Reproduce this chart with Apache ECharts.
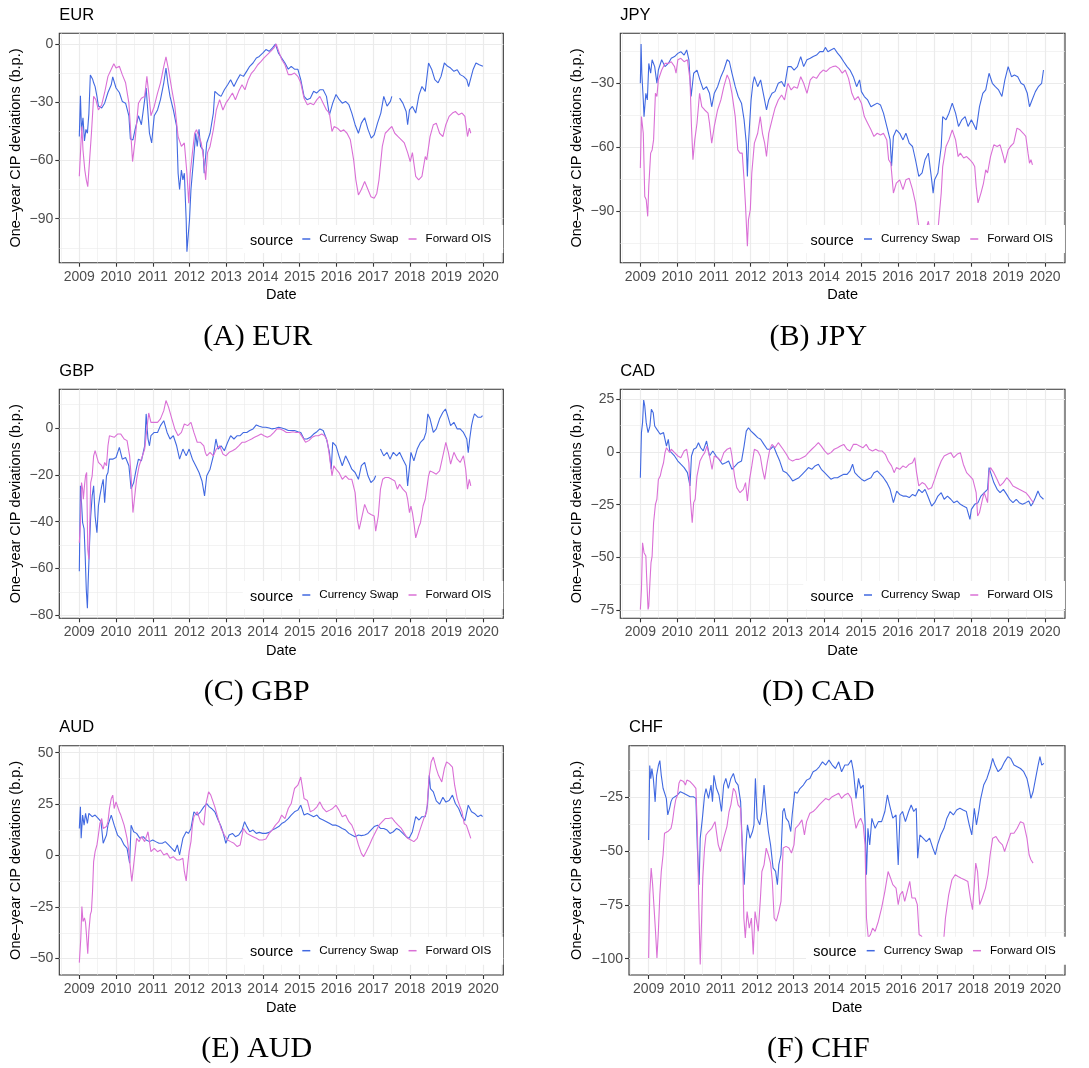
<!DOCTYPE html>
<html><head><meta charset="utf-8">
<script src="https://cdn.jsdelivr.net/npm/echarts@6/dist/echarts.min.js"></script>
<style>html,body{margin:0;padding:0;background:#fff}#c{width:1089px;height:1068px}</style>
</head><body><div id="c"></div>
<script>
const yearTicks = [2009,2010,2011,2012,2013,2014,2015,2016,2017,2018,2019,2020];
const halfYearTicks = [2008.5,2009.5,2010.5,2011.5,2012.5,2013.5,2014.5,2015.5,2016.5,2017.5,2018.5,2019.5,2020.5];
const seriesNames = ['Currency Swap','Forward OIS'];

const eurSwap = [[2009.00,-47.7],[2009.03,-26.7],[2009.06,-45],[2009.10,-38],[2009.14,-50],[2009.18,-44],[2009.22,-46],[2009.26,-36],[2009.30,-16],[2009.32,-15.3],[2009.36,-18],[2009.39,-20],[2009.43,-22],[2009.48,-27],[2009.52,-32],[2009.61,-33],[2009.69,-30.5],[2009.78,-25],[2009.87,-21],[2009.91,-17],[2010.00,-22.7],[2010.09,-25],[2010.17,-29.6],[2010.26,-30.5],[2010.35,-37],[2010.39,-49],[2010.46,-49.4],[2010.52,-44],[2010.61,-37],[2010.69,-41.6],[2010.78,-28.7],[2010.82,-22.7],[2010.91,-46],[2010.97,-51],[2011.04,-37],[2011.13,-34],[2011.21,-28.7],[2011.30,-20],[2011.36,-12.4],[2011.41,-20],[2011.47,-27],[2011.56,-34],[2011.65,-42.5],[2011.69,-66.6],[2011.73,-75],[2011.78,-65],[2011.82,-70],[2011.86,-66.6],[2011.91,-90.7],[2011.93,-107],[2011.97,-97.6],[2012.00,-90.7],[2012.04,-75],[2012.11,-59.7],[2012.17,-46],[2012.21,-52.8],[2012.26,-44],[2012.30,-52.8],[2012.37,-54.6],[2012.40,-66.6],[2012.47,-51],[2012.56,-46],[2012.65,-35.6],[2012.69,-24.4],[2012.78,-26],[2012.86,-27],[2012.95,-23.6],[2013.04,-21],[2013.12,-18.4],[2013.21,-21.9],[2013.30,-18.4],[2013.38,-15.8],[2013.47,-16.7],[2013.56,-14],[2013.64,-11.5],[2013.73,-9.8],[2013.82,-7.2],[2013.90,-6.4],[2014.00,-4.6],[2014.08,-2.9],[2014.17,-3.8],[2014.26,-2],[2014.34,0],[2014.42,-4.6],[2014.51,-7.2],[2014.60,-9.8],[2014.69,-13],[2014.77,-11.5],[2014.86,-13],[2014.95,-13],[2015.03,-18.4],[2015.12,-27],[2015.20,-28.7],[2015.29,-28],[2015.38,-24.4],[2015.46,-25.3],[2015.55,-23.6],[2015.64,-23.6],[2015.73,-27],[2015.81,-36.5],[2015.90,-30.5],[2015.99,-26],[2016.08,-28.7],[2016.16,-30.5],[2016.25,-29.6],[2016.34,-31.3],[2016.42,-35.6],[2016.51,-41.6],[2016.60,-46],[2016.68,-40.8],[2016.77,-38],[2016.86,-44],[2016.95,-48.5],[2017.03,-46.8],[2017.12,-40.8],[2017.21,-35.6],[2017.29,-27],[2017.38,-32],[2017.47,-29.6],[2017.51,-27],[2017.60,null],[2017.72,-27.9],[2017.81,-30.5],[2017.90,-34.8],[2017.94,-41.6],[2017.99,-34],[2018.07,-32.2],[2018.16,-35.6],[2018.25,-26.2],[2018.33,-21.9],[2018.42,-24.4],[2018.51,-9.8],[2018.60,-13.3],[2018.68,-18.4],[2018.77,-20],[2018.85,-16.7],[2018.94,-9.8],[2019.03,-11.5],[2019.11,-12.4],[2019.20,-14.1],[2019.29,-13.3],[2019.37,-15.8],[2019.46,-16.7],[2019.55,-18.4],[2019.60,-22],[2019.65,-18.4],[2019.72,-13.3],[2019.80,-9.8],[2019.89,-10.7],[2019.99,-11.5]];
const eurOis = [[2009.00,-68.2],[2009.04,-52.8],[2009.07,-42.5],[2009.10,-54.6],[2009.15,-65],[2009.19,-70],[2009.23,-73.5],[2009.28,-59.7],[2009.33,-46],[2009.39,-27],[2009.45,-28.7],[2009.52,-34],[2009.61,-31.3],[2009.69,-25],[2009.78,-16.7],[2009.87,-13],[2009.94,-10.2],[2010.00,-12.4],[2010.09,-11.5],[2010.17,-15.8],[2010.26,-20],[2010.35,-30.5],[2010.39,-42.5],[2010.45,-60.6],[2010.52,-49.4],[2010.61,-30.5],[2010.69,-28],[2010.78,-27],[2010.84,-16.7],[2010.89,-25.3],[2010.95,-37],[2011.04,-32.2],[2011.13,-25.3],[2011.21,-20],[2011.30,-11.5],[2011.36,-6.7],[2011.43,-13.3],[2011.52,-23.6],[2011.60,-32],[2011.69,-47.7],[2011.78,-52.8],[2011.86,-51],[2011.93,-66.6],[2011.98,-82],[2012.02,-66.6],[2012.08,-56],[2012.14,-46],[2012.19,-44.2],[2012.26,-47.7],[2012.32,-51],[2012.39,-59.7],[2012.44,-70],[2012.49,-56],[2012.56,-52.8],[2012.65,-44.2],[2012.73,-34],[2012.82,-28.7],[2012.91,-34],[2012.99,-30.5],[2013.08,-28],[2013.17,-25.3],[2013.25,-28.7],[2013.34,-24.4],[2013.43,-21],[2013.51,-23.6],[2013.60,-18.4],[2013.69,-15],[2013.77,-13.3],[2013.86,-10.7],[2013.95,-9],[2014.03,-7.2],[2014.12,-5.5],[2014.21,-3.8],[2014.30,-2],[2014.36,0],[2014.43,-3.8],[2014.51,-8],[2014.60,-10.7],[2014.69,-15.8],[2014.77,-15.8],[2014.86,-15],[2014.95,-16.7],[2015.03,-20],[2015.12,-28],[2015.21,-31.3],[2015.29,-30.5],[2015.38,-31.3],[2015.47,-28.7],[2015.55,-27],[2015.64,-30.5],[2015.73,-34],[2015.81,-35.6],[2015.88,-45.1],[2015.94,-42.5],[2016.03,-43.4],[2016.12,-45.1],[2016.20,-44.2],[2016.29,-46],[2016.38,-49.4],[2016.47,-59.7],[2016.53,-70],[2016.60,-77.8],[2016.68,-75],[2016.77,-70.9],[2016.86,-75],[2016.94,-78.7],[2017.03,-79.5],[2017.10,-77],[2017.16,-70],[2017.25,-52.8],[2017.33,-46],[2017.42,-44.2],[2017.51,-42.5],[2017.59,-46],[2017.68,-47.7],[2017.77,-49.4],[2017.85,-51],[2017.94,-56],[2018.01,-60.6],[2018.07,-56],[2018.16,-68.2],[2018.24,-70],[2018.33,-68.2],[2018.42,-58],[2018.46,-59.7],[2018.55,-47.7],[2018.64,-41.6],[2018.72,-40.8],[2018.81,-46],[2018.90,-47.7],[2018.98,-41.6],[2019.07,-37.3],[2019.16,-35.6],[2019.24,-34.8],[2019.33,-36.5],[2019.42,-35.6],[2019.50,-37.3],[2019.57,-47.7],[2019.62,-43.4],[2019.66,-46]];

const jpySwap = [[2009.00,-30],[2009.02,-11.6],[2009.04,-25.3],[2009.08,-37.8],[2009.10,-45.6],[2009.15,-34.7],[2009.19,-37.8],[2009.23,-20.7],[2009.28,-25.3],[2009.32,-19],[2009.39,-22.2],[2009.45,-30],[2009.49,-23.8],[2009.58,-19],[2009.67,-22.2],[2009.76,-20.7],[2009.84,-18.3],[2009.93,-17.5],[2010.02,-16],[2010.10,-15.2],[2010.19,-16.8],[2010.26,-14.4],[2010.32,-19],[2010.38,-36.2],[2010.45,-25.3],[2010.54,-23.8],[2010.62,-28.4],[2010.71,-33],[2010.80,-31.6],[2010.88,-34.7],[2010.94,-41],[2011.01,-34.7],[2011.10,-31.6],[2011.19,-26.9],[2011.27,-23.8],[2011.36,-19],[2011.42,-19.8],[2011.49,-25.3],[2011.58,-31.6],[2011.66,-36.2],[2011.75,-39.3],[2011.82,-47],[2011.88,-58],[2011.91,-73.6],[2011.94,-58],[2012.01,-37.8],[2012.06,-30],[2012.10,-26.9],[2012.19,-31.6],[2012.27,-28.4],[2012.36,-36.2],[2012.43,-42.5],[2012.49,-37.8],[2012.58,-34.7],[2012.66,-33.9],[2012.75,-30],[2012.84,-29.2],[2012.92,-31.6],[2013.01,-22.2],[2013.10,-22.2],[2013.18,-23.8],[2013.27,-22.2],[2013.36,-17.5],[2013.44,-22.2],[2013.53,-19],[2013.62,-18.3],[2013.70,-17.5],[2013.79,-16.8],[2013.88,-15.2],[2013.97,-15.2],[2014.03,-13.2],[2014.10,-15.2],[2014.18,-14.4],[2014.27,-13.6],[2014.36,-15.9],[2014.44,-17.5],[2014.53,-19.9],[2014.62,-22.2],[2014.70,-23.8],[2014.79,-26.9],[2014.88,-31.6],[2014.96,-28.4],[2015.01,-33.9],[2015.09,-36.2],[2015.18,-37.8],[2015.27,-41],[2015.35,-40.2],[2015.44,-39.3],[2015.53,-40.2],[2015.61,-44],[2015.70,-50.2],[2015.79,-56.4],[2015.83,-68.8],[2015.88,-54.9],[2015.96,-51.8],[2016.05,-53.4],[2016.14,-56.5],[2016.22,-53.4],[2016.31,-58],[2016.40,-59.6],[2016.48,-65.8],[2016.57,-73.6],[2016.66,-72],[2016.74,-65.8],[2016.83,-62.7],[2016.92,-75.2],[2016.96,-81.4],[2017.00,-75.2],[2017.09,-72],[2017.18,-59.6],[2017.22,-45.6],[2017.31,-47.1],[2017.39,-44],[2017.48,-39.3],[2017.57,-44],[2017.65,-50.2],[2017.74,-47.1],[2017.83,-45.6],[2017.91,-50.2],[2018.00,-47.1],[2018.09,-50.2],[2018.13,-51.8],[2018.22,-40.9],[2018.31,-34.7],[2018.39,-33.1],[2018.48,-25.3],[2018.57,-30],[2018.65,-31.6],[2018.74,-33.1],[2018.83,-36.2],[2018.91,-28.4],[2019.00,-22.2],[2019.09,-26.9],[2019.17,-26.1],[2019.26,-26.9],[2019.35,-30],[2019.43,-30.8],[2019.52,-34.7],[2019.58,-41],[2019.65,-37.8],[2019.74,-33.9],[2019.82,-31.6],[2019.91,-30],[2019.96,-23.8]];
const jpyOis = [[2009.00,-69.7],[2009.03,-45.6],[2009.08,-53.4],[2009.12,-83],[2009.16,-84.5],[2009.20,-92.3],[2009.23,-78],[2009.28,-62.7],[2009.32,-61.2],[2009.36,-56.5],[2009.41,-34.7],[2009.45,-36.2],[2009.49,-28.4],[2009.58,-23.8],[2009.67,-20.7],[2009.76,-20.7],[2009.84,-19.9],[2009.93,-22.2],[2009.97,-25.3],[2010.02,-19],[2010.10,-18.3],[2010.19,-19.9],[2010.28,-19],[2010.35,-28.4],[2010.39,-50.2],[2010.43,-65.8],[2010.48,-56.5],[2010.54,-48.7],[2010.61,-34.7],[2010.67,-40.9],[2010.75,-42.5],[2010.84,-44],[2010.88,-48.7],[2010.94,-58],[2011.01,-50.2],[2011.10,-42.5],[2011.19,-37.8],[2011.27,-31.6],[2011.36,-26.1],[2011.42,-28.4],[2011.49,-34.7],[2011.58,-45.6],[2011.65,-61.2],[2011.71,-62.7],[2011.77,-62.7],[2011.82,-75.2],[2011.86,-87.6],[2011.91,-106.3],[2011.94,-93.8],[2011.99,-89.1],[2012.03,-72],[2012.10,-58],[2012.19,-53.4],[2012.26,-45.6],[2012.32,-53.4],[2012.38,-58],[2012.43,-64.3],[2012.49,-53.4],[2012.58,-47.1],[2012.66,-41.7],[2012.75,-37.8],[2012.84,-35.5],[2012.92,-37.8],[2013.01,-30],[2013.10,-33.1],[2013.18,-31.6],[2013.27,-32.3],[2013.36,-26.9],[2013.44,-30],[2013.53,-34.7],[2013.62,-28.4],[2013.70,-26.9],[2013.79,-27.7],[2013.88,-25.3],[2013.97,-23.8],[2014.05,-24.5],[2014.14,-23],[2014.23,-22.2],[2014.31,-21.9],[2014.40,-23],[2014.49,-25.3],[2014.57,-23.8],[2014.66,-27.7],[2014.75,-34.7],[2014.83,-37.8],[2014.92,-36.2],[2015.01,-39.3],[2015.09,-45.6],[2015.18,-48.7],[2015.27,-51.8],[2015.35,-54.9],[2015.44,-53.4],[2015.53,-54.2],[2015.61,-53.4],[2015.70,-56.5],[2015.75,-65.8],[2015.81,-67.4],[2015.88,-81.4],[2015.96,-76.7],[2016.05,-75.2],[2016.14,-79.8],[2016.22,-75.2],[2016.31,-74.5],[2016.40,-79.8],[2016.48,-86],[2016.57,-97],[2016.66,-103],[2016.74,-100],[2016.83,-94.6],[2016.92,-104],[2017.00,-109],[2017.07,-103],[2017.11,-95],[2017.18,-81.4],[2017.22,-69],[2017.31,-59.6],[2017.39,-56.5],[2017.48,-51.8],[2017.57,-56.5],[2017.64,-64.3],[2017.70,-62.7],[2017.79,-65],[2017.87,-64.3],[2017.96,-65.8],[2018.04,-67.4],[2018.09,-69],[2018.13,-78.2],[2018.18,-86],[2018.26,-81.4],[2018.33,-76.7],[2018.39,-70.5],[2018.44,-72],[2018.52,-64.3],[2018.61,-58.8],[2018.70,-59.6],[2018.78,-58.8],[2018.87,-64.3],[2018.91,-67.4],[2019.00,-61.2],[2019.06,-59.6],[2019.15,-58],[2019.19,-54.9],[2019.24,-51],[2019.32,-51.8],[2019.41,-53.4],[2019.48,-54.9],[2019.54,-62.7],[2019.58,-67.4],[2019.62,-65.8],[2019.66,-68.2]];

const gbpSwap = [[2009.00,-61.1],[2009.03,-24.7],[2009.06,-31.9],[2009.09,-40.4],[2009.13,-43],[2009.16,-54.7],[2009.19,-69],[2009.22,-76.9],[2009.24,-66.1],[2009.28,-49],[2009.31,-37.6],[2009.35,-29],[2009.39,-24.7],[2009.43,-37.6],[2009.48,-44.7],[2009.52,-33.3],[2009.56,-29],[2009.61,-24.7],[2009.65,-21.9],[2009.69,-31.9],[2009.74,-20.4],[2009.78,-19],[2009.82,-13.3],[2009.91,-13.3],[2010.00,-12.6],[2010.09,-8.3],[2010.17,-13.3],[2010.26,-12.6],[2010.35,-16.1],[2010.41,-26],[2010.48,-23.3],[2010.55,-17.6],[2010.61,-13.3],[2010.69,-14],[2010.78,-7.6],[2010.82,6],[2010.87,-4.7],[2010.91,-7.6],[2010.95,-3.3],[2011.04,-1.9],[2011.13,-1.9],[2011.21,1],[2011.30,3.1],[2011.34,3.9],[2011.39,-1.9],[2011.47,-4.7],[2011.56,-3.3],[2011.65,-7.6],[2011.73,-13.3],[2011.82,-9],[2011.91,-11.9],[2011.99,-9],[2012.08,-13.3],[2012.17,-16.1],[2012.26,-19],[2012.34,-22.6],[2012.41,-29],[2012.47,-20.4],[2012.56,-17.6],[2012.65,-11.9],[2012.72,-4.7],[2012.78,-9],[2012.86,-7.6],[2012.95,-9.7],[2013.04,-6.1],[2013.12,-3.3],[2013.21,-4.7],[2013.30,-3.3],[2013.38,-3.3],[2013.47,-1.9],[2013.56,-1.9],[2013.64,-1.1],[2013.73,-0.4],[2013.82,1.3],[2013.90,0.7],[2013.99,0.3],[2014.08,0.3],[2014.17,0],[2014.25,-0.4],[2014.34,-0.1],[2014.43,0.3],[2014.51,0],[2014.60,-0.4],[2014.69,-1.1],[2014.77,-1.1],[2014.86,-1.1],[2014.95,-1.6],[2015.03,-1.9],[2015.12,-4.7],[2015.20,-4.7],[2015.29,-4],[2015.38,-2.6],[2015.47,-1.6],[2015.55,-0.4],[2015.64,-1.1],[2015.73,-4.7],[2015.81,-10.4],[2015.86,-17.6],[2015.90,-6.1],[2015.99,-7.6],[2016.07,-11.9],[2016.16,-16.1],[2016.25,-11.9],[2016.34,-14.7],[2016.42,-17.6],[2016.51,-19],[2016.60,-21.9],[2016.68,-16.1],[2016.77,-14.7],[2016.86,-20.4],[2016.94,-23.3],[2017.03,-21.9],[2017.07,-20.4],[2017.12,null],[2017.20,-9],[2017.29,-11.9],[2017.38,-10.4],[2017.46,-13.3],[2017.55,-10.4],[2017.64,-11.9],[2017.72,-10.4],[2017.81,-13.3],[2017.90,-16.1],[2017.94,-24.7],[2018.03,-10.4],[2018.11,-14],[2018.20,-9],[2018.29,-6.1],[2018.38,-4.7],[2018.44,-1.9],[2018.49,6],[2018.55,3.9],[2018.64,-1.9],[2018.72,-0.4],[2018.81,3.9],[2018.90,6.7],[2018.97,8.1],[2019.03,5.3],[2019.11,1],[2019.20,2.4],[2019.29,-0.4],[2019.37,-0.4],[2019.46,-1.9],[2019.55,-4.7],[2019.59,-10.5],[2019.63,-4.7],[2019.68,1],[2019.72,3.9],[2019.76,6],[2019.85,4.6],[2019.94,4.6],[2019.98,5.3]];
const gbpOis = [[2009.00,-49],[2009.03,-40.4],[2009.06,-23.3],[2009.09,-26.1],[2009.11,-30.4],[2009.14,-24.7],[2009.17,-20.4],[2009.20,-19],[2009.23,-51.9],[2009.26,-56],[2009.29,-37.6],[2009.31,-23.3],[2009.35,-20.4],[2009.39,-11.9],[2009.43,-9.7],[2009.48,-10.4],[2009.52,-14.7],[2009.61,-16.1],[2009.65,-17.6],[2009.69,-14.7],[2009.74,-16.1],[2009.78,-7.6],[2009.82,-3.3],[2009.87,-2.6],[2009.95,-4],[2010.04,-2.6],[2010.13,-2.6],[2010.22,-4.7],[2010.30,-5.4],[2010.37,-11.9],[2010.41,-20.4],[2010.46,-36.1],[2010.50,-30.4],[2010.56,-21.9],[2010.63,-16.1],[2010.69,-13.3],[2010.78,-9],[2010.85,1],[2010.89,6.4],[2010.95,2.4],[2011.04,2.4],[2011.13,2.4],[2011.21,3.9],[2011.30,7.4],[2011.36,11.7],[2011.43,8.9],[2011.52,3.9],[2011.60,-0.4],[2011.69,-3.3],[2011.78,-1.9],[2011.86,1.7],[2011.95,1],[2012.04,2.4],[2012.12,-1.9],[2012.21,-6.1],[2012.30,-6.1],[2012.39,-7.6],[2012.43,-10.4],[2012.47,-11.9],[2012.56,-10.4],[2012.65,-11.9],[2012.73,-9],[2012.82,-7.6],[2012.91,-11.1],[2012.99,-11.9],[2013.08,-10.4],[2013.17,-9.7],[2013.25,-9],[2013.34,-7.6],[2013.43,-6.1],[2013.51,-6.1],[2013.60,-5.4],[2013.69,-4.7],[2013.77,-4],[2013.86,-3.3],[2013.95,-2.6],[2014.03,-3.3],[2014.12,-4],[2014.21,-3.3],[2014.30,-1.9],[2014.38,-0.4],[2014.47,-0.4],[2014.56,-1.1],[2014.64,-1.9],[2014.73,-1.9],[2014.82,-1.6],[2014.90,-1.9],[2014.99,-1.9],[2015.08,-4],[2015.16,-6.1],[2015.25,-5.4],[2015.34,-4],[2015.43,-3.3],[2015.51,-3.3],[2015.60,-2.6],[2015.68,-3.3],[2015.75,-5.4],[2015.81,-11.9],[2015.88,-20.4],[2015.93,-16.1],[2015.99,-17.6],[2016.07,-19],[2016.16,-21.9],[2016.25,-20.4],[2016.34,-21.9],[2016.42,-21.9],[2016.51,-27.6],[2016.57,-39],[2016.62,-43.3],[2016.68,-39],[2016.77,-32.6],[2016.86,-36.1],[2016.94,-36.9],[2017.03,-37.6],[2017.07,-44],[2017.14,-37.6],[2017.20,-26.1],[2017.26,-21.9],[2017.33,-21.1],[2017.42,-21.1],[2017.51,-21.9],[2017.59,-22.6],[2017.66,-26.1],[2017.72,-24],[2017.81,-26.1],[2017.90,-27.6],[2017.94,-30.4],[2017.99,-36.1],[2018.03,-33.3],[2018.07,-36.1],[2018.11,-40.4],[2018.16,-46.9],[2018.20,-44.7],[2018.25,-41.9],[2018.29,-40.4],[2018.36,-33.3],[2018.42,-30.4],[2018.46,-26.1],[2018.51,-20.4],[2018.55,-18.3],[2018.64,-19],[2018.72,-19.7],[2018.81,-18.3],[2018.90,-11.9],[2018.98,-6.1],[2019.05,-10.4],[2019.11,-15.4],[2019.20,-10.4],[2019.29,-13.3],[2019.37,-14.7],[2019.46,-11.9],[2019.52,-17.6],[2019.57,-26.1],[2019.62,-21.9],[2019.66,-24.7]];

const cadSwap = [[2009.00,-12.2],[2009.03,9.2],[2009.06,13.9],[2009.09,24.6],[2009.12,21.8],[2009.16,13.9],[2009.21,9.2],[2009.26,12.3],[2009.30,20.2],[2009.35,18.6],[2009.39,12.3],[2009.45,10.7],[2009.54,8.4],[2009.63,9.2],[2009.67,8.4],[2009.71,2.8],[2009.76,6],[2009.80,0.5],[2009.84,-0.3],[2009.93,-1.9],[2010.02,-4.3],[2010.10,-5.8],[2010.19,-7.4],[2010.28,-9.8],[2010.35,-16.1],[2010.39,-1.9],[2010.45,1.3],[2010.52,2],[2010.58,4.4],[2010.64,2],[2010.71,0.5],[2010.80,5.2],[2010.88,-1.9],[2010.97,0.5],[2011.06,-1.9],[2011.14,-3.5],[2011.23,-5.8],[2011.32,-5.1],[2011.40,-4.3],[2011.49,-8.2],[2011.58,-6.6],[2011.66,-5.1],[2011.75,-4.3],[2011.82,2.8],[2011.88,9.9],[2011.94,11.5],[2012.01,9.9],[2012.10,8.4],[2012.19,6.8],[2012.27,6],[2012.36,3.6],[2012.45,1.3],[2012.53,1.3],[2012.62,2.8],[2012.71,-1.1],[2012.79,-4.3],[2012.88,-9],[2012.97,-9.8],[2013.05,-11.4],[2013.14,-13.7],[2013.23,-12.9],[2013.31,-12.2],[2013.40,-10.6],[2013.49,-9],[2013.57,-7.4],[2013.66,-8.2],[2013.75,-6.6],[2013.84,-5.8],[2013.92,-8.2],[2014.01,-9.8],[2014.10,-11.4],[2014.18,-12.9],[2014.27,-12.2],[2014.36,-12.2],[2014.44,-11.4],[2014.53,-10.6],[2014.62,-10.6],[2014.70,-9],[2014.77,-5.8],[2014.83,-9.8],[2014.92,-11.4],[2015.01,-12.9],[2015.09,-13.7],[2015.18,-12.9],[2015.27,-12.2],[2015.35,-9.8],[2015.44,-9],[2015.53,-10.6],[2015.61,-12.2],[2015.70,-14.5],[2015.79,-17.7],[2015.88,-24],[2015.97,-18.5],[2016.05,-20.1],[2016.14,-20.9],[2016.22,-20.9],[2016.31,-21.6],[2016.40,-20.1],[2016.48,-20.9],[2016.57,-17.7],[2016.66,-19.3],[2016.74,-17.7],[2016.83,-21.6],[2016.92,-25.6],[2017.00,-24],[2017.09,-20.9],[2017.18,-19.3],[2017.26,-22.4],[2017.35,-20.9],[2017.44,-22.4],[2017.52,-24],[2017.61,-23.2],[2017.70,-24.8],[2017.78,-25.6],[2017.87,-26.4],[2017.96,-31.9],[2018.00,-27.2],[2018.09,-24.8],[2018.18,-24],[2018.26,-20.9],[2018.35,-19.3],[2018.44,-17.7],[2018.48,-7.4],[2018.52,-8.2],[2018.61,-14.5],[2018.70,-17.7],[2018.78,-19.3],[2018.87,-17.7],[2018.96,-20.1],[2019.04,-22.4],[2019.13,-24],[2019.22,-22.4],[2019.30,-24],[2019.39,-24.8],[2019.48,-24],[2019.56,-23.2],[2019.62,-25.6],[2019.68,-24],[2019.74,-21.6],[2019.81,-18.5],[2019.87,-20.9],[2019.96,-22.4]];
const cadOis = [[2009.00,-74.6],[2009.03,-65],[2009.06,-43],[2009.10,-47.7],[2009.15,-49.3],[2009.17,-58.8],[2009.21,-74.6],[2009.23,-73],[2009.26,-61.9],[2009.29,-52.4],[2009.32,-49.3],[2009.36,-33.5],[2009.41,-24.8],[2009.45,-22.4],[2009.49,-13],[2009.54,-11.4],[2009.58,-8.2],[2009.63,-5.1],[2009.67,-0.3],[2009.71,2],[2009.76,2.8],[2009.80,-0.3],[2009.84,1.3],[2009.93,-0.3],[2010.02,-1.9],[2010.10,-2.7],[2010.19,0.5],[2010.26,1.3],[2010.32,-5.1],[2010.36,-22.4],[2010.41,-33.5],[2010.45,-24],[2010.49,-22.4],[2010.54,-11.4],[2010.62,-4.3],[2010.69,-1.9],[2010.75,-0.3],[2010.81,2.8],[2010.88,-1.9],[2010.95,-8.2],[2011.01,-1.9],[2011.10,-2.7],[2011.19,-4.3],[2011.27,-0.3],[2011.36,1.3],[2011.45,2],[2011.49,-1.9],[2011.56,-11.4],[2011.62,-16.9],[2011.71,-19.3],[2011.80,-17.7],[2011.86,-14.5],[2011.91,-23.2],[2011.97,-13],[2012.03,-6.6],[2012.10,1.3],[2012.19,0.5],[2012.26,-1.9],[2012.32,-8.2],[2012.38,-13],[2012.45,-5.1],[2012.52,1.3],[2012.58,3.6],[2012.66,2],[2012.75,4.4],[2012.79,5.2],[2012.88,1.3],[2012.97,-1.1],[2013.05,-3.5],[2013.14,-4.3],[2013.23,-3.5],[2013.31,-3.5],[2013.40,-2.7],[2013.49,-1.9],[2013.57,-0.3],[2013.66,1.3],[2013.75,2.8],[2013.84,4.4],[2013.92,2.8],[2014.01,0.5],[2014.10,-1.1],[2014.18,-0.3],[2014.27,1.3],[2014.36,2],[2014.44,2.8],[2014.53,3.6],[2014.62,1.3],[2014.70,0.5],[2014.79,3.6],[2014.88,3.6],[2014.96,2.8],[2015.05,2],[2015.14,3.6],[2015.22,1.3],[2015.31,0.5],[2015.40,1.3],[2015.48,0.5],[2015.57,0.5],[2015.66,-1.1],[2015.74,-4.3],[2015.83,-6.6],[2015.90,-9.8],[2015.96,-7.4],[2016.05,-8.2],[2016.14,-6.6],[2016.22,-7.4],[2016.31,-5.8],[2016.40,-5.1],[2016.46,-2.7],[2016.51,-9.8],[2016.57,-16.1],[2016.66,-14.5],[2016.74,-15.3],[2016.83,-17.7],[2016.92,-16.9],[2017.00,-13],[2017.09,-8.2],[2017.18,-4.3],[2017.26,-1.9],[2017.35,-1.1],[2017.44,-0.3],[2017.52,-2.7],[2017.61,-1.1],[2017.70,-0.3],[2017.78,-5.8],[2017.87,-9.8],[2017.96,-11.4],[2018.04,-13],[2018.13,-19.3],[2018.17,-30.3],[2018.22,-28.7],[2018.30,-22.4],[2018.35,-19.3],[2018.39,-20.1],[2018.44,-24],[2018.48,-9.8],[2018.52,-7.4],[2018.61,-9.8],[2018.70,-13],[2018.78,-16.1],[2018.87,-14.5],[2018.96,-12.2],[2019.04,-13.7],[2019.13,-16.1],[2019.22,-16.9],[2019.30,-17.7],[2019.39,-18.5],[2019.48,-19.3],[2019.56,-20.9],[2019.65,-23.2],[2019.69,-24]];

const audSwap = [[2009.00,13.2],[2009.03,23.7],[2009.05,8.4],[2009.09,19.7],[2009.13,14.8],[2009.17,20.5],[2009.22,15.6],[2009.26,20.5],[2009.35,18.9],[2009.43,19.7],[2009.52,18],[2009.59,16.5],[2009.65,6],[2009.69,5.2],[2009.74,10],[2009.78,14.8],[2009.87,19.7],[2009.91,18.9],[2009.95,14.8],[2010.04,10],[2010.13,8.4],[2010.22,5.2],[2010.30,3.5],[2010.37,-3.7],[2010.41,14.8],[2010.48,11.6],[2010.56,10.8],[2010.65,8.4],[2010.74,9.2],[2010.82,7.6],[2010.91,6.8],[2011.00,7.6],[2011.08,6.8],[2011.17,6],[2011.26,6],[2011.34,6.8],[2011.43,5.2],[2011.52,3.5],[2011.60,1.9],[2011.67,5.2],[2011.73,0.3],[2011.82,8.4],[2011.91,11.6],[2011.97,10.8],[2012.04,13.2],[2012.12,21.3],[2012.21,19.7],[2012.30,21.3],[2012.39,23.7],[2012.47,25.3],[2012.54,23.7],[2012.60,22.9],[2012.69,21.3],[2012.78,17.3],[2012.86,14.2],[2012.92,10.8],[2012.99,6],[2013.08,10],[2013.17,10.8],[2013.25,9.2],[2013.34,10],[2013.43,12.4],[2013.50,16.5],[2013.56,14.2],[2013.64,11.6],[2013.73,12.4],[2013.82,10.8],[2013.90,11.3],[2013.99,10.8],[2014.08,10.8],[2014.17,11.3],[2014.25,12.4],[2014.34,13.2],[2014.43,14.1],[2014.51,15.6],[2014.60,16.5],[2014.69,18],[2014.77,19.7],[2014.86,21.3],[2014.95,22.1],[2015.03,24.5],[2015.12,19.7],[2015.21,20.5],[2015.29,19.7],[2015.38,18.9],[2015.47,19.7],[2015.55,18],[2015.64,17.3],[2015.73,16.5],[2015.82,15.6],[2015.90,14.8],[2015.99,14.8],[2016.07,14.1],[2016.16,13.2],[2016.25,12.4],[2016.34,10.8],[2016.42,10],[2016.51,9.2],[2016.60,10],[2016.68,9.7],[2016.77,10],[2016.86,10.8],[2016.94,12.4],[2017.03,14.1],[2017.12,14.8],[2017.20,13.2],[2017.29,13.2],[2017.38,12.4],[2017.46,10.8],[2017.55,11.6],[2017.64,13.2],[2017.72,12.4],[2017.81,10.8],[2017.90,9.2],[2017.98,8.4],[2018.07,11.6],[2018.16,18.9],[2018.25,17.3],[2018.33,18.9],[2018.42,18.9],[2018.48,24.5],[2018.53,39],[2018.56,32.6],[2018.64,31],[2018.72,26.6],[2018.81,25],[2018.90,28.4],[2018.98,26],[2019.07,26.8],[2019.16,29.4],[2019.24,25.3],[2019.33,22.9],[2019.42,18.9],[2019.50,17],[2019.59,24.5],[2019.68,21.3],[2019.76,20.5],[2019.85,18.9],[2019.94,19.7],[2019.98,18.9]];
const audOis = [[2009.00,-52],[2009.04,-40.3],[2009.07,-24.7],[2009.10,-32],[2009.14,-30.3],[2009.17,-32.6],[2009.20,-39.7],[2009.23,-47.7],[2009.26,-36.8],[2009.30,-28.7],[2009.33,-27],[2009.36,-17.4],[2009.39,-2.9],[2009.43,1.9],[2009.48,5.2],[2009.52,10],[2009.56,15.6],[2009.61,18],[2009.65,13.2],[2009.69,13.2],[2009.74,14.1],[2009.78,16.5],[2009.82,22.9],[2009.87,27.7],[2009.91,29.4],[2009.95,22.9],[2010.00,26.1],[2010.04,25.3],[2010.09,21.3],[2010.13,19.7],[2010.17,18.9],[2010.22,14.8],[2010.26,11.6],[2010.30,8.4],[2010.35,1.9],[2010.39,-6.1],[2010.43,-12.6],[2010.48,-4.5],[2010.52,1.9],[2010.56,8.4],[2010.63,6.8],[2010.69,9.2],[2010.78,6.8],[2010.87,11.6],[2010.95,1.9],[2011.04,3.5],[2011.13,1.9],[2011.21,2.7],[2011.30,0.3],[2011.39,1.1],[2011.47,-1.3],[2011.56,-0.5],[2011.65,-2.1],[2011.73,-2.1],[2011.82,-1.3],[2011.86,-7.7],[2011.91,-12.3],[2011.95,-4.5],[2011.99,1.9],[2012.04,6.8],[2012.08,14.8],[2012.12,18.9],[2012.21,21.3],[2012.30,16.5],[2012.39,14.8],[2012.45,25.3],[2012.52,31],[2012.58,29.4],[2012.62,30.2],[2012.69,23.7],[2012.78,18],[2012.86,13.2],[2012.95,10],[2013.04,7.6],[2013.12,6.8],[2013.21,6],[2013.30,4.4],[2013.38,5.2],[2013.47,13.2],[2013.56,10.8],[2013.64,10],[2013.73,9.2],[2013.82,8.4],[2013.90,7.6],[2013.99,7.6],[2014.08,8.1],[2014.17,10.8],[2014.25,12.4],[2014.34,14.8],[2014.43,16.5],[2014.51,19.7],[2014.60,18],[2014.69,22.9],[2014.77,25.3],[2014.86,32.6],[2014.95,34.2],[2015.03,38.2],[2015.08,32.6],[2015.12,27.7],[2015.21,26.8],[2015.29,21.3],[2015.38,22.1],[2015.47,23.7],[2015.55,26.1],[2015.64,22.9],[2015.73,21.3],[2015.82,22.1],[2015.90,22.9],[2015.99,24.5],[2016.07,22.1],[2016.16,18.9],[2016.25,19.7],[2016.34,16.5],[2016.42,14.8],[2016.51,10.8],[2016.60,5.2],[2016.68,1.1],[2016.74,-0.5],[2016.81,1.9],[2016.90,5.2],[2016.98,8.4],[2017.07,11.6],[2017.16,14.8],[2017.25,16.5],[2017.33,18],[2017.42,18],[2017.51,18.4],[2017.59,16.5],[2017.68,14.8],[2017.77,13.2],[2017.85,10.8],[2017.94,8.4],[2018.03,7.6],[2018.11,6.8],[2018.20,8.4],[2018.29,13.2],[2018.38,18],[2018.46,21.3],[2018.52,37.4],[2018.58,45.5],[2018.64,47.9],[2018.72,42.3],[2018.78,39],[2018.87,35.8],[2018.94,42.3],[2019.00,45.5],[2019.07,44.7],[2019.16,43],[2019.22,34.2],[2019.29,27.7],[2019.35,24.5],[2019.42,21.3],[2019.48,15.5],[2019.54,14.8],[2019.60,11.6],[2019.66,8.4]];

const chfSwap = [[2009.00,-44.8],[2009.03,-10.2],[2009.06,-16.3],[2009.09,-11.6],[2009.13,-16.3],[2009.18,-27.1],[2009.22,-14.8],[2009.27,-10.2],[2009.31,-7.9],[2009.35,-14.8],[2009.40,-20.8],[2009.44,-20.8],[2009.49,-25.5],[2009.53,-33.2],[2009.58,-30.1],[2009.62,-27],[2009.66,-25.5],[2009.71,-25.5],[2009.80,-23.9],[2009.88,-22.4],[2009.97,-23.1],[2010.06,-23.9],[2010.15,-24.7],[2010.24,-24.7],[2010.31,-25.5],[2010.35,-48.6],[2010.40,-65.6],[2010.43,-44.1],[2010.49,-34.8],[2010.55,-24.1],[2010.59,-21],[2010.66,-25.5],[2010.73,-19.3],[2010.77,-27],[2010.81,-14.8],[2010.88,-20.8],[2010.95,-23.9],[2011.02,-31.6],[2011.08,-19.3],[2011.14,-16.2],[2011.21,-20.8],[2011.28,-16.2],[2011.35,-13.9],[2011.41,-17.7],[2011.48,-19.3],[2011.55,-27],[2011.61,-53.3],[2011.65,-65.6],[2011.70,-47.1],[2011.74,-37.8],[2011.81,-44],[2011.88,-40.9],[2011.92,-37.8],[2011.96,-16.2],[2012.01,-34.8],[2012.08,-37.8],[2012.14,-31.6],[2012.20,-19.3],[2012.26,-31.6],[2012.32,-40.9],[2012.38,-47.1],[2012.45,-57.8],[2012.52,-59.4],[2012.57,-65.6],[2012.61,-56.3],[2012.67,-51.7],[2012.72,-31.6],[2012.76,-30.1],[2012.81,-34.7],[2012.88,-36.3],[2012.94,-40.9],[2012.98,-33.2],[2013.05,-22.4],[2013.12,-23.1],[2013.20,-20.8],[2013.29,-19.3],[2013.38,-17],[2013.47,-16.2],[2013.56,-13.1],[2013.65,-12.3],[2013.73,-10.8],[2013.82,-8.5],[2013.91,-10],[2014.00,-7.7],[2014.09,-10],[2014.18,-11.6],[2014.27,-8.5],[2014.35,-13.1],[2014.44,-10],[2014.53,-10],[2014.62,-7.7],[2014.68,-13.1],[2014.75,-25.5],[2014.82,-16.2],[2014.88,-20.8],[2014.95,-19.3],[2015.00,-36.3],[2015.04,-61],[2015.08,-39.4],[2015.13,-47.1],[2015.19,-34.8],[2015.28,-39.4],[2015.37,-36.3],[2015.46,-36.3],[2015.55,-31.6],[2015.62,-23.9],[2015.68,-28.5],[2015.77,-34.7],[2015.86,-33.2],[2015.92,-56.4],[2015.97,-33.2],[2016.04,-31.6],[2016.12,-36.3],[2016.21,-31.6],[2016.28,-28.6],[2016.35,-31.6],[2016.42,-30.1],[2016.46,-53.3],[2016.52,-42.5],[2016.61,-44],[2016.70,-45.6],[2016.79,-44],[2016.88,-48.6],[2016.95,-51.7],[2017.01,-47.1],[2017.10,-42.5],[2017.19,-39.4],[2017.27,-34.7],[2017.36,-31.6],[2017.45,-33.2],[2017.54,-30.9],[2017.63,-30.1],[2017.72,-30.9],[2017.81,-31.6],[2017.89,-37.8],[2017.96,-42.5],[2018.03,-30.1],[2018.09,-37.8],[2018.16,-30.9],[2018.20,-26.2],[2018.29,-19.3],[2018.38,-16.2],[2018.47,-11.6],[2018.54,-6.9],[2018.60,-10],[2018.69,-13.1],[2018.78,-11.6],[2018.87,-8.5],[2018.96,-6.1],[2019.04,-6.9],[2019.13,-10],[2019.22,-10.8],[2019.31,-11.6],[2019.40,-13.1],[2019.49,-16.2],[2019.55,-20.8],[2019.60,-25.5],[2019.66,-22.4],[2019.73,-16.2],[2019.80,-10],[2019.85,-6.1],[2019.90,-10],[2019.96,-9.2]];
const chfOis = [[2009.00,-99.7],[2009.03,-70.3],[2009.07,-57.9],[2009.11,-65.6],[2009.15,-76.4],[2009.19,-87.3],[2009.23,-99.7],[2009.27,-87.3],[2009.31,-70.3],[2009.35,-59.5],[2009.40,-51.7],[2009.44,-41.7],[2009.53,-40.9],[2009.62,-39.4],[2009.66,-36.3],[2009.71,-30.1],[2009.75,-26.2],[2009.80,-23.9],[2009.84,-18.5],[2009.88,-17],[2009.97,-17.7],[2010.02,-19.3],[2010.06,-17],[2010.15,-17.7],[2010.24,-19.3],[2010.31,-20.8],[2010.35,-39.4],[2010.39,-74.9],[2010.43,-102.7],[2010.47,-81.1],[2010.50,-62.6],[2010.55,-48.6],[2010.59,-42.5],[2010.66,-40.9],[2010.75,-39.4],[2010.84,-36.3],[2010.93,-47.1],[2010.99,-50.2],[2011.08,-44],[2011.17,-38.6],[2011.23,-31.6],[2011.28,-28.5],[2011.35,-20.8],[2011.41,-22.4],[2011.48,-28.5],[2011.55,-30.1],[2011.61,-54.9],[2011.64,-81.1],[2011.68,-90.4],[2011.73,-78.1],[2011.79,-85.8],[2011.85,-81.1],[2011.90,-98.1],[2011.95,-78.1],[2011.99,-78.1],[2012.04,-87.3],[2012.10,-71.8],[2012.14,-59.5],[2012.20,-56.4],[2012.26,-48.6],[2012.32,-51.7],[2012.38,-55.6],[2012.43,-64.1],[2012.48,-81.1],[2012.54,-82.6],[2012.61,-78.1],[2012.67,-73.4],[2012.73,-48.6],[2012.81,-47.8],[2012.89,-48.6],[2012.96,-50.9],[2013.03,-47.1],[2013.07,-39.4],[2013.16,-37.8],[2013.25,-35.5],[2013.32,-42.5],[2013.38,-36.3],[2013.47,-32.4],[2013.56,-31.6],[2013.65,-30.1],[2013.73,-28.5],[2013.82,-27],[2013.91,-25.5],[2014.00,-26.2],[2014.09,-24.7],[2014.18,-23.9],[2014.27,-23.1],[2014.35,-25.5],[2014.44,-23.9],[2014.53,-23.1],[2014.62,-25.5],[2014.68,-32.4],[2014.75,-39.4],[2014.82,-36.3],[2014.88,-34.7],[2014.95,-37.8],[2015.00,-47.1],[2015.04,-81.1],[2015.09,-90.4],[2015.15,-88.8],[2015.21,-85.8],[2015.28,-87.3],[2015.37,-82.6],[2015.46,-76.4],[2015.55,-68.7],[2015.64,-59.5],[2015.71,-62.6],[2015.77,-65.6],[2015.86,-67.2],[2015.92,-74.9],[2015.97,-70.3],[2016.04,-68.7],[2016.10,-73.4],[2016.17,-68.7],[2016.24,-64.1],[2016.30,-71.8],[2016.39,-71.8],[2016.45,-74.9],[2016.50,-88.8],[2016.57,-89.6],[2016.65,-96],[2016.75,-99],[2016.85,-97],[2016.95,-100],[2017.05,-98],[2017.12,-95],[2017.19,-89.6],[2017.23,-81.1],[2017.32,-70.3],[2017.41,-63.3],[2017.50,-61],[2017.58,-61.8],[2017.67,-62.6],[2017.76,-63.3],[2017.85,-64.1],[2017.92,-71.8],[2017.98,-77.2],[2018.03,-65.6],[2018.07,-55.6],[2018.12,-59.5],[2018.18,-74.9],[2018.25,-71.8],[2018.34,-67.2],[2018.41,-61],[2018.47,-51.7],[2018.54,-44],[2018.63,-43.2],[2018.72,-45.6],[2018.81,-47.1],[2018.87,-50.2],[2018.96,-45.6],[2019.04,-41.7],[2019.13,-41.7],[2019.22,-39.4],[2019.31,-36.3],[2019.40,-37.1],[2019.49,-44],[2019.55,-51.7],[2019.60,-54],[2019.66,-55.6]];

const X_MIN = 2008.455, X_MAX = 2020.545;
const SANS = 'Liberation Sans, Arial, sans-serif';
const SERIF = 'Liberation Serif, Times New Roman, serif';
const COLORS = ['#4169E1', '#DA70D6'];

const panels = [
  {key:'EUR', caption:'(A) EUR', swap:eurSwap, ois:eurOis, yMin:-112.7, yMax:5.5, yMajor:[-90,-60,-30,0], yMinor:[-105,-75,-45,-15], left:59.3, top:33.3, width:444, height:229.4, nameGap:36, lgLeft:242.7, lgTop:225, lgPad:59.6, titleY:15, capX:257.7, capY:337.5},
  {key:'JPY', caption:'(B) JPY', swap:jpySwap, ois:jpyOis, yMin:-114.0, yMax:-6.6, yMajor:[-90,-60,-30], yMinor:[-105,-75,-45,-15], left:620.3, top:33.3, width:444.7, height:229.4, nameGap:35.7, lgLeft:803.3, lgTop:225, lgPad:60.7, titleY:15, capX:818.3, capY:337.5},
  {key:'GBP', caption:'(C) GBP', swap:gbpSwap, ois:gbpOis, yMin:-81.2, yMax:16.5, yMajor:[-80,-60,-40,-20,0], yMinor:[-70,-50,-30,-10,10], left:59.3, top:389.3, width:444, height:229, nameGap:36, lgLeft:242.7, lgTop:581, lgPad:59.6, titleY:371.7, capX:256.7, capY:692.5},
  {key:'CAD', caption:'(D) CAD', swap:cadSwap, ois:cadOis, yMin:-78.8, yMax:29.7, yMajor:[-75,-50,-25,0,25], yMinor:[-62.5,-37.5,-12.5,12.5], left:620.3, top:389.3, width:444.7, height:229, nameGap:35.7, lgLeft:803.3, lgTop:581, lgPad:60.7, titleY:371.7, capX:818.3, capY:692.5},
  {key:'AUD', caption:'(E) AUD', swap:audSwap, ois:audOis, yMin:-58.0, yMax:53.4, yMajor:[-50,-25,0,25,50], yMinor:[-37.5,-12.5,12.5,37.5], left:59.3, top:745.7, width:444, height:229.3, nameGap:36, lgLeft:242.7, lgTop:936.7, lgPad:59.6, titleY:727.3, capX:256.7, capY:1049},
  {key:'CHF', caption:'(F) CHF', swap:chfSwap, ois:chfOis, yMin:-107.6, yMax:-1.0, yMajor:[-100,-75,-50,-25], yMinor:[-87.5,-62.5,-37.5,-12.5], left:629, top:745.7, width:436, height:229.3, nameGap:44.4, lgLeft:806, lgTop:936.7, lgPad:60.7, titleY:727.3, capX:818.3, capY:1049}
];

const fmtY = v => (v < 0 ? '\u2212' + Math.abs(v) : String(v));
const fmtX = v => String(Math.round(v));
const grid = [], xAxis = [], yAxis = [], series = [], legend = [], graphic = [];

panels.forEach((p, i) => {
  grid.push({left:p.left, top:p.top, width:p.width, height:p.height, show:true, backgroundColor:'#fff', borderColor:'#333333', borderWidth:1.1, containLabel:false});
  xAxis.push({type:'value', gridIndex:i, min:X_MIN, max:X_MAX, position:'bottom',
    axisLine:{show:false, onZero:false},
    axisTick:{show:true, customValues:yearTicks, length:4, lineStyle:{color:'#333333', width:1.1}},
    axisLabel:{customValues:yearTicks, color:'#4D4D4D', fontSize:14, margin:7, fontFamily:SANS, formatter:fmtX},
    splitLine:{show:true, lineStyle:{color:'#EBEBEB', width:1.2}},
    name:'Date', nameLocation:'middle', nameGap:25, nameTextStyle:{color:'#000', fontSize:14.5, fontFamily:SANS}});
  xAxis.push({type:'value', gridIndex:i, min:X_MIN, max:X_MAX, position:'top',
    axisLine:{show:false, onZero:false}, axisTick:{show:false, customValues:halfYearTicks},
    axisLabel:{show:false, customValues:halfYearTicks},
    splitLine:{show:true, lineStyle:{color:'#EBEBEB', width:0.6}}});
  yAxis.push({type:'value', gridIndex:i, min:p.yMin, max:p.yMax, position:'left',
    axisLine:{show:false, onZero:false},
    axisTick:{show:true, customValues:p.yMajor, length:4, lineStyle:{color:'#333333', width:1.1}},
    axisLabel:{customValues:p.yMajor, color:'#4D4D4D', fontSize:14, margin:6, fontFamily:SANS, formatter:fmtY},
    splitLine:{show:true, lineStyle:{color:'#EBEBEB', width:1.2}},
    name:'One\u2013year CIP deviations (b.p.)', nameLocation:'middle', nameGap:p.nameGap,
    nameTextStyle:{color:'#000', fontSize:14.5, fontFamily:SANS}});
  yAxis.push({type:'value', gridIndex:i, min:p.yMin, max:p.yMax, position:'right',
    axisLine:{show:false, onZero:false}, axisTick:{show:false, customValues:p.yMinor},
    axisLabel:{show:false, customValues:p.yMinor},
    splitLine:{show:true, lineStyle:{color:'#EBEBEB', width:0.6}}});
  [p.swap, p.ois].forEach((d, k) => {
    series.push({type:'line', name:seriesNames[k], xAxisIndex:2*i, yAxisIndex:2*i, data:d,
      showSymbol:false, symbol:'none', connectNulls:false, silent:true,
      lineStyle:{color:COLORS[k], width:1.1}, itemStyle:{color:COLORS[k]}, z:2});
  });
  legend.push({left:p.lgLeft, top:p.lgTop, orient:'horizontal', padding:[8,12,8,p.lgPad],
    backgroundColor:'#fff', data:seriesNames, icon:'rect', itemWidth:8, itemHeight:1.5, itemGap:10,
    selectedMode:false, itemStyle:{borderWidth:0},
    textStyle:{fontSize:11.6, color:'#000', fontFamily:SANS, padding:[0,0,0,4]}, z:4});
  graphic.push({type:'text', x:p.left, y:p.titleY, z:100,
    style:{text:p.key, fontSize:16.5, fontFamily:SANS, fill:'#000', align:'left', verticalAlign:'middle'}});
  graphic.push({type:'text', x:p.lgLeft + 7.3, y:p.lgTop + 15.7, z:100,
    style:{text:'source', fontSize:14.4, fontFamily:SANS, fill:'#000', align:'left', verticalAlign:'middle'}});
  graphic.push({type:'text', x:p.capX, y:p.capY, z:100,
    style:{text:p.caption, fontSize:30, fontFamily:SERIF, fill:'#000', align:'center', verticalAlign:'middle'}});
});

const chart = echarts.init(document.getElementById('c'), null, {renderer:'canvas'});
chart.setOption({
  backgroundColor:'#fff', animation:false,
  textStyle:{fontFamily:SANS},
  grid, xAxis, yAxis, series, legend,
  graphic:{elements:graphic, z:100}
});
</script></body></html>
